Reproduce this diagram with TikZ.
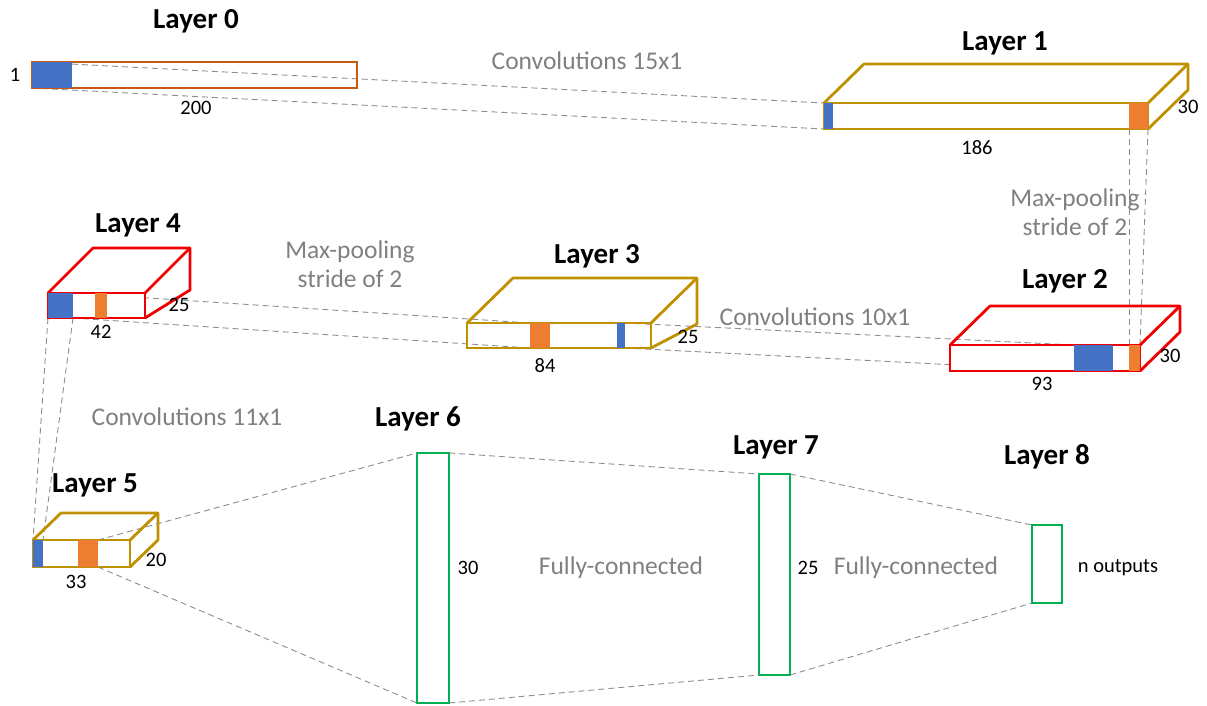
\documentclass[tikz,border=0pt]{standalone}
\usepackage{fontspec}
\setmainfont{Carlito}
\definecolor{cblue}{RGB}{68,114,196}
\definecolor{corange}{RGB}{237,125,49}
\definecolor{cbrown}{RGB}{197,90,17}
\definecolor{cgold}{RGB}{191,144,0}
\definecolor{cred}{RGB}{240,0,0}
\definecolor{cgreen}{RGB}{0,176,80}
\definecolor{cgray}{RGB}{128,128,128}
\begin{document}
\begin{tikzpicture}[x=1pt,y=-1pt,
 face/.style={draw, line width=2.8pt, inner sep=0pt, outer sep=0pt},
 edge/.style={line width=2.8pt, line join=round},
 bcell/.style={fill=cblue, inner sep=0pt, outer sep=0pt},
 ocell/.style={fill=corange, inner sep=0pt, outer sep=0pt},
 guide/.style={draw=cgray!90, dash pattern=on 6pt off 4pt, line width=0.9pt},
 title/.style={font=\fontsize{29}{32}\selectfont\bfseries, inner sep=0pt},
 dim/.style={font=\fontsize{20.5}{23}\selectfont, inner sep=0pt},
 note/.style={font=\fontsize{25.5}{29}\selectfont, text=cgray, inner sep=0pt, align=center},
]
\useasboundingbox (0,0) rectangle (1207,705);

% ---- cells (positions) ----
\node[face, draw=cbrown, minimum width=325pt, minimum height=26pt] (l0) at (194.5,75) {};
\node[bcell, minimum width=40pt, minimum height=26pt] (l0b) at (52,75) {};

\node[face, draw=cgold, minimum width=324pt, minimum height=26pt] (l1) at (986,116) {};
\node[bcell, minimum width=9pt, minimum height=26pt] (l1b) at (828.5,116) {};
\node[ocell, minimum width=19pt, minimum height=26pt] (l1o) at (1138.5,116) {};

\node[face, draw=cred, fill=white, minimum width=190pt, minimum height=26pt] (l2) at (1045,358) {};
\node[bcell, minimum width=39pt, minimum height=26pt] (l2b) at (1093.5,358) {};
\node[ocell, minimum width=11pt, minimum height=26pt] (l2o) at (1134.5,358) {};

\node[face, draw=cgold, minimum width=184pt, minimum height=25pt] (l3) at (559,335.5) {};
\node[ocell, minimum width=20pt, minimum height=25pt] (l3o) at (540,335.5) {};
\node[bcell, minimum width=8pt, minimum height=25pt] (l3b) at (621,335.5) {};

\node[face, draw=cred, fill=white, minimum width=97pt, minimum height=25pt] (l4) at (96.5,305.5) {};
\node[bcell, minimum width=25pt, minimum height=25pt] (l4b) at (60.5,305.5) {};
\node[ocell, minimum width=12pt, minimum height=25pt] (l4o) at (101,305.5) {};

\node[face, draw=cgold, minimum width=97pt, minimum height=27pt] (l5) at (81.5,553.5) {};
\node[bcell, minimum width=10pt, minimum height=27pt] (l5b) at (38,553.5) {};
\node[ocell, minimum width=20pt, minimum height=27pt] (l5o) at (88,553.5) {};

\node[face, draw=cgreen, minimum width=32pt, minimum height=250pt] (l6) at (433,578) {};
\node[face, draw=cgreen, minimum width=31pt, minimum height=201pt] (l7) at (774.5,574.5) {};
\node[face, draw=cgreen, minimum width=30pt, minimum height=78pt] (l8) at (1047,564) {};

% ---- guide lines ----
\draw[guide] (l0b.north west) -- (l1b.north west);
\draw[guide] (l0b.south west) -- (l1b.south west);
\draw[guide] (l1o.south west) -- (l2o.north west);
\draw[guide] (l1o.south east) -- (l2o.north east);
\draw[guide] (l3b.north east) -- (l2b.north west);
\draw[guide] (l3b.south east) -- (l2b.south west);
\draw[guide] (l4b.north east) -- (l3o.north west);
\draw[guide] (l4b.south east) -- (l3o.south west);
\draw[guide] (l4b.south west) -- (l5b.north west);
\draw[guide] (l4b.south east) -- (l5b.north east);
\draw[guide] (l5o.north east) -- (l6.north west);
\draw[guide] (l5o.south east) -- (l6.south west);
\draw[guide] (l6.north east) -- (l7.north west);
\draw[guide] (l6.south east) -- (l7.south west);
\draw[guide] (l7.north east) -- (l8.north west);
\draw[guide] (l7.south east) -- (l8.south west);

% ---- faces on top ----
\node[face, draw=cbrown, minimum width=325pt, minimum height=26pt] at (l0) {};
\node[bcell, minimum width=40pt, minimum height=26pt] at (l0b) {};

\node[face, draw=cgold, minimum width=324pt, minimum height=26pt] at (l1) {};
\draw[edge, cgold] (l1.north west) -- ++(40,-39) -| ([shift={(40,-39)}]l1.south east) -- (l1.south east);
\draw[edge, cgold] (l1.north east) -- ++(40,-39);
\node[bcell, minimum width=9pt, minimum height=26pt] at (l1b) {};
\node[ocell, minimum width=19pt, minimum height=26pt] at (l1o) {};

\node[face, draw=cred, fill=white, minimum width=190pt, minimum height=26pt] at (l2) {};
\draw[edge, cred] (l2.north west) -- ++(40,-39) -| ([shift={(40,-39)}]l2.south east) -- (l2.south east);
\draw[edge, cred] (l2.north east) -- ++(40,-39);
\node[bcell, minimum width=39pt, minimum height=26pt] at (l2b) {};
\node[ocell, minimum width=11pt, minimum height=26pt] at (l2o) {};

\node[face, draw=cgold, minimum width=184pt, minimum height=25pt] at (l3) {};
\draw[edge, cgold] (l3.north west) -- ++(46,-45) -| ([shift={(46,-24)}]l3.south east) -- (l3.south east);
\draw[edge, cgold] (l3.north east) -- ++(46,-45);
\node[ocell, minimum width=20pt, minimum height=25pt] at (l3o) {};
\node[bcell, minimum width=8pt, minimum height=25pt] at (l3b) {};

\node[face, draw=cred, fill=white, minimum width=97pt, minimum height=25pt] at (l4) {};
\draw[edge, cred] (l4.north west) -- ++(45,-45) -| ([shift={(45,-28)}]l4.south east) -- (l4.south east);
\draw[edge, cred] (l4.north east) -- ++(45,-45);
\node[bcell, minimum width=25pt, minimum height=25pt] at (l4b) {};
\node[ocell, minimum width=12pt, minimum height=25pt] at (l4o) {};

\node[face, draw=cgold, minimum width=97pt, minimum height=27pt] at (l5) {};
\draw[edge, cgold] (l5.north west) -- ++(28,-27) -| ([shift={(28,-27)}]l5.south east) -- (l5.south east);
\draw[edge, cgold] (l5.north east) -- ++(28,-27);
\node[bcell, minimum width=10pt, minimum height=27pt] at (l5b) {};
\node[ocell, minimum width=20pt, minimum height=27pt] at (l5o) {};

% ---- titles ----
\node[title] (t0) at (196,21) {Layer 0};
\node[title] (t1) at (1005,43) {Layer 1};
\node[title] (t2) at (1065,281) {Layer 2};
\node[title] (t3) at (597,256) {Layer 3};
\node[title] (t4) at (138,225) {Layer 4};
\node[title] (t5) at (95,485) {Layer 5};
\node[title] (t6) at (418,419) {Layer 6};
\node[title] (t7) at (776,447) {Layer 7};
\node[title] (t8) at (1047,457) {Layer 8};

% ---- dimensions ----
\node[dim] (d0a) at (15,75) {1};
\node[dim] (d0b) at (196,108) {200};
\node[dim] (d1a) at (977,148) {186};
\node[dim] (d1b) at (1188,107) {30};
\node[dim] (d2a) at (1042,384) {93};
\node[dim] (d2b) at (1170,356) {30};
\node[dim] (d3a) at (545,366) {84};
\node[dim] (d3b) at (688,337) {25};
\node[dim] (d4a) at (101,332) {42};
\node[dim] (d4b) at (179,305) {25};
\node[dim] (d5a) at (76,582) {33};
\node[dim] (d5b) at (156,560) {20};
\node[dim] (d6) at (468,568) {30};
\node[dim] (d7) at (808,568) {25};
\node[dim] (d8) at (1118,568) {n outputs};

% ---- operation notes ----
\node[note] (n1) at (587,61) {Convolutions 15x1};
\node[note] (n2) at (1075,212) {Max-pooling\\stride of 2};
\node[note] (n3) at (350,264) {Max-pooling\\stride of 2};
\node[note] (n4) at (815,317) {Convolutions 10x1};
\node[note] (n5) at (187,417) {Convolutions 11x1};
\node[note] (n6) at (621,568) {Fully-connected};
\node[note] (n7) at (916,568) {Fully-connected};
\end{tikzpicture}
\end{document}
